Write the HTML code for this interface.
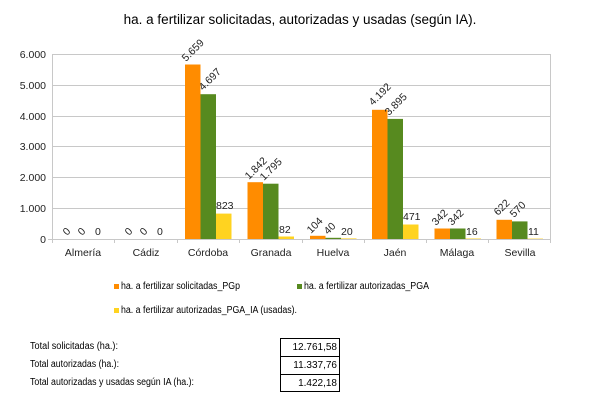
<!DOCTYPE html>
<html><head><meta charset="utf-8"><style>
body{margin:0;background:#fff;width:600px;height:406px;overflow:hidden;font-family:"Liberation Sans",sans-serif}
svg{position:absolute;left:0;top:0}
</style></head><body>
<svg width="600" height="406" xmlns="http://www.w3.org/2000/svg" font-family="Liberation Sans, sans-serif">
<text x="300" y="24" font-size="13.5" text-anchor="middle" fill="#000">ha. a fertilizar solicitadas, autorizadas y usadas (según IA).</text>
<g stroke="#c8c8c8" stroke-width="1">
<line x1="52" y1="54.5" x2="551" y2="54.5"/>
<line x1="52" y1="85.5" x2="551" y2="85.5"/>
<line x1="52" y1="116.5" x2="551" y2="116.5"/>
<line x1="52" y1="146.5" x2="551" y2="146.5"/>
<line x1="52" y1="177.5" x2="551" y2="177.5"/>
<line x1="52" y1="208.5" x2="551" y2="208.5"/>
<line x1="550.5" y1="54" x2="550.5" y2="239"/>
<line x1="52.5" y1="54" x2="52.5" y2="243"/>
<line x1="48" y1="239.5" x2="551" y2="239.5"/>
<line x1="114.5" y1="239" x2="114.5" y2="243"/>
<line x1="177.5" y1="239" x2="177.5" y2="243"/>
<line x1="239.5" y1="239" x2="239.5" y2="243"/>
<line x1="302.5" y1="239" x2="302.5" y2="243"/>
<line x1="364.5" y1="239" x2="364.5" y2="243"/>
<line x1="426.5" y1="239" x2="426.5" y2="243"/>
<line x1="488.5" y1="239" x2="488.5" y2="243"/>
<line x1="550.5" y1="239" x2="550.5" y2="243"/>
</g>
<g font-size="10.5" fill="#222" text-anchor="end">
<text x="46" y="58">6.000</text><text x="46" y="89">5.000</text><text x="46" y="120">4.000</text>
<text x="46" y="150">3.000</text><text x="46" y="181">2.000</text><text x="46" y="212">1.000</text><text x="46" y="243">0</text>
</g>
<g font-size="10.5" fill="#222" text-anchor="middle">
<text x="83" y="256">Almería</text><text x="146" y="256">Cádiz</text><text x="208" y="256">Córdoba</text>
<text x="271" y="256">Granada</text><text x="333" y="256">Huelva</text><text x="395" y="256">Jaén</text>
<text x="457" y="256">Málaga</text><text x="520" y="256">Sevilla</text>
</g>
<g>
<rect x="185" y="64.5" width="15.5" height="174.5" fill="#ff8c00"/>
<rect x="200.5" y="94.2" width="15.5" height="144.8" fill="#578a1f"/>
<rect x="216" y="213.6" width="15.5" height="25.4" fill="#ffd320"/>
<rect x="247.5" y="182.2" width="15.5" height="56.8" fill="#ff8c00"/>
<rect x="263" y="183.7" width="15.5" height="55.3" fill="#578a1f"/>
<rect x="278.5" y="236.5" width="15.5" height="2.5" fill="#ffd320"/>
<rect x="310" y="235.8" width="15.5" height="3.2" fill="#ff8c00"/>
<rect x="325.5" y="237.8" width="15.5" height="1.2" fill="#578a1f"/>
<rect x="341" y="238.4" width="15.5" height="0.6" fill="#ffd320"/>
<rect x="372" y="109.8" width="15.5" height="129.2" fill="#ff8c00"/>
<rect x="387.5" y="118.9" width="15.5" height="120.1" fill="#578a1f"/>
<rect x="403" y="224.5" width="15.5" height="14.5" fill="#ffd320"/>
<rect x="434.5" y="228.5" width="15.5" height="10.5" fill="#ff8c00"/>
<rect x="450" y="228.5" width="15.5" height="10.5" fill="#578a1f"/>
<rect x="465.5" y="238.5" width="15.5" height="0.5" fill="#ffd320"/>
<rect x="496.5" y="219.8" width="15.5" height="19.2" fill="#ff8c00"/>
<rect x="512" y="221.4" width="15.5" height="17.6" fill="#578a1f"/>
<rect x="527.5" y="238.6" width="15.5" height="0.4" fill="#ffd320"/>
</g>
<g font-size="10.5" fill="#222">
<text transform="translate(186,62) rotate(-45)">5.659</text>
<text transform="translate(203,91) rotate(-45)">4.697</text>
<text x="216" y="209">823</text>
<text transform="translate(249,180) rotate(-45)">1.842</text>
<text transform="translate(264,181) rotate(-45)">1.795</text>
<text x="279" y="233">82</text>
<text transform="translate(311,234) rotate(-45)">104</text>
<text transform="translate(328,235) rotate(-45)">40</text>
<text x="341" y="235">20</text>
<text transform="translate(373,106) rotate(-45)">4.192</text>
<text transform="translate(389,116) rotate(-45)">3.895</text>
<text x="403" y="220">471</text>
<text transform="translate(436,226) rotate(-45)">342</text>
<text transform="translate(452,226) rotate(-45)">342</text>
<text x="466" y="235">16</text>
<text transform="translate(498,216) rotate(-45)">622</text>
<text transform="translate(514,218) rotate(-45)">570</text>
<text x="528" y="235">11</text>
<text transform="translate(67,236) rotate(-45)">0</text>
<text transform="translate(82,236) rotate(-45)">0</text>
<text x="95" y="235">0</text>
<text transform="translate(129,236) rotate(-45)">0</text>
<text transform="translate(144,236) rotate(-45)">0</text>
<text x="157" y="235">0</text>
</g>
<g font-size="10" fill="#000">
<rect x="114" y="284" width="5" height="5" fill="#ff8c00"/><text x="121" y="289" textLength="119" lengthAdjust="spacingAndGlyphs">ha. a fertilizar solicitadas_PGp</text>
<rect x="297" y="284" width="5" height="5" fill="#578a1f"/><text x="304" y="289" textLength="125" lengthAdjust="spacingAndGlyphs">ha. a fertilizar autorizadas_PGA</text>
<rect x="114" y="308" width="5" height="5" fill="#ffd320"/><text x="121" y="313" textLength="176" lengthAdjust="spacingAndGlyphs">ha. a fertilizar autorizadas_PGA_IA (usadas).</text>
<text x="30" y="349" textLength="88" lengthAdjust="spacingAndGlyphs">Total solicitadas (ha.):</text>
<text x="30" y="367" textLength="89" lengthAdjust="spacingAndGlyphs">Total autorizadas (ha.):</text>
<text x="30" y="385" textLength="164" lengthAdjust="spacingAndGlyphs">Total autorizadas y usadas según IA (ha.):</text>
<rect x="280.5" y="338.5" width="59" height="53" fill="none" stroke="#000"/>
<line x1="280" y1="356.5" x2="340" y2="356.5" stroke="#000"/>
<line x1="280" y1="374.5" x2="340" y2="374.5" stroke="#000"/>
<g text-anchor="end"><text x="337" y="350">12.761,58</text><text x="337" y="368">11.337,76</text><text x="337" y="386">1.422,18</text></g>
</g>
</svg>
</body></html>
